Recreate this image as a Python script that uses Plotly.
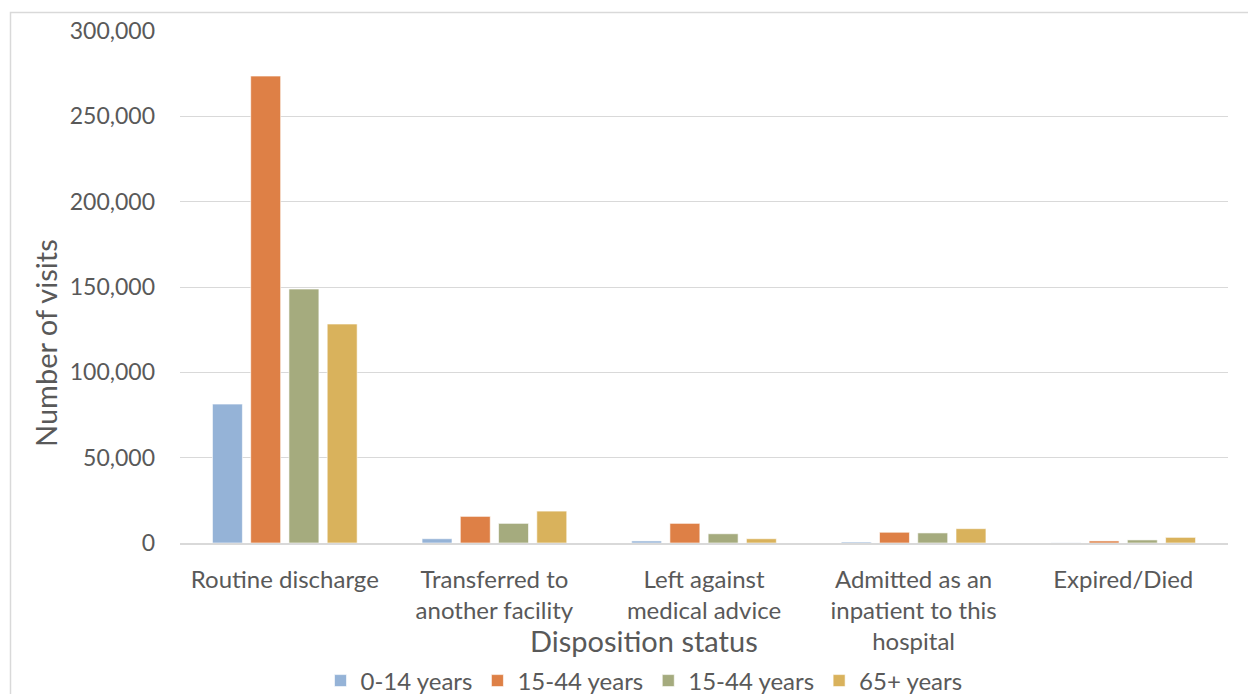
import plotly.graph_objects as go

categories = ["Routine discharge", "Transferred to<br>another facility", "Left against<br>medical advice",
              "Admitted as an<br>inpatient to this<br>hospital", "Expired/Died"]
series_names = ["0-14 years", "15-44 years", "15-44 years", "65+ years"]
age_0_14 = [81400, 2500, 1200, 600, 100]
age_15_44_a = [273600, 15600, 11500, 6300, 1200]
age_15_44_b = [148800, 11500, 5400, 5900, 1800]
age_65_plus = [128300, 18700, 2500, 8400, 3300]
colors = ["#95B3D7", "#DE8046", "#A5AB7E", "#D9B25C"]
y_ticks = [0, 50000, 100000, 150000, 200000, 250000, 300000]

values = [age_0_14, age_15_44_a, age_15_44_b, age_65_plus]
font = "Lato, 'Open Sans', sans-serif"
gray = "#595959"

fig = go.Figure()
for name, vals, col in zip(series_names, values, colors):
    fig.add_trace(go.Bar(
        x=categories, y=vals, name=name,
        marker=dict(color=col, line=dict(color="rgba(255,255,255,0.6)", width=1)),
    ))

L, R, T, B = 180, 20, 31, 151
W, H = 1248, 694
pw, ph = W - L - R, H - T - B

def px_x(px):
    return (px - L) / pw

def px_y(py):
    return (H - B - py) / ph

fig.update_layout(
    width=W, height=H,
    margin=dict(l=L, r=R, t=T, b=B, autoexpand=False),
    paper_bgcolor="white", plot_bgcolor="white",
    barmode="group", bargap=0.27, bargroupgap=0.217,
    font=dict(family=font, color=gray, size=23),
    showlegend=True,
    legend=dict(orientation="h", x=px_x(644), xanchor="center", y=px_y(681), yanchor="middle",
                font=dict(size=24, color=gray), itemwidth=30, traceorder="normal"),
    xaxis=dict(
        showline=True, linecolor="#D9D9D9", linewidth=1.5, ticks="", automargin=False,
        tickfont=dict(size=24, color=gray), ticklabelstandoff=14,
    ),
    yaxis=dict(
        range=[0, 300000], tickvals=y_ticks, tickformat=",", showgrid=True, automargin=False,
        gridcolor="#D9D9D9", gridwidth=1, zeroline=False, showline=False,
        tickfont=dict(size=23, color=gray), ticklabelstandoff=24,
    ),
    annotations=[
        dict(text="Disposition status", xref="paper", yref="paper", x=px_x(644), y=px_y(640),
             xanchor="center", yanchor="middle", showarrow=False, font=dict(size=29, color=gray)),
        dict(text="Number of visits", xref="paper", yref="paper", x=px_x(45), y=px_y(343),
             xanchor="center", yanchor="middle", textangle=-90, showarrow=False,
             font=dict(size=29, color=gray)),
    ],
    shapes=[dict(type="rect", xref="paper", yref="paper",
                 x0=px_x(10.5), x1=px_x(W + 20),
                 y0=px_y(H + 20), y1=px_y(12.5),
                 line=dict(color="#D9D9D9", width=1.5), fillcolor="rgba(0,0,0,0)", layer="below")],
)

fig.write_html("out.html", config={"displayModeBar": False},
               post_script="document.body.style.margin='0';")
